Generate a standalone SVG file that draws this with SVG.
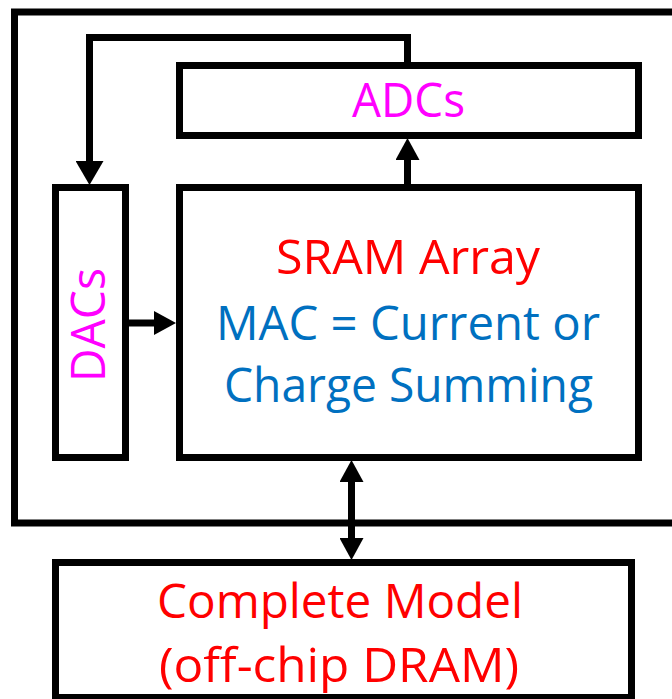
<svg xmlns="http://www.w3.org/2000/svg" width="672" height="699" viewBox="0 0 672 699">
<style>
.box{fill:#fff;stroke:#000;stroke-width:7}
.wire{fill:none;stroke:#000;stroke-width:7}
.t{font-family:"Open Sans","Liberation Sans",sans-serif;font-size:48px;text-anchor:middle}
.red{fill:#FF0000}
.blue{fill:#0070C0}
.mag{fill:#FF00FF}
</style>
<defs>
<marker id="ah" markerUnits="userSpaceOnUse" markerWidth="24" markerHeight="24" viewBox="0 0 22 24" refX="0" refY="12" orient="auto-start-reverse">
<path d="M0,0 L22,12 L0,24 z" fill="#000"/>
</marker>
<marker id="ahb" markerUnits="userSpaceOnUse" markerWidth="24" markerHeight="28" viewBox="0 0 24 28" refX="0" refY="14" orient="auto">
<path d="M0,0 L24,14 L0,28 z" fill="#000"/>
</marker>
</defs>
<rect width="672" height="699" fill="#fff"/>
<g id="chip">
<path class="wire" d="M690,12 H14.5 V523 H690"/>
</g>
<g id="adcs">
<rect class="box" x="179.5" y="65.5" width="459" height="70"/>
<text class="t mag" x="408.5" y="117" textLength="113" lengthAdjust="spacingAndGlyphs">ADCs</text>
</g>
<g id="dacs">
<rect class="box" x="55.5" y="187.5" width="70" height="270"/>
<text class="t mag" transform="translate(105,325) rotate(-90)" x="0" y="0" textLength="114" lengthAdjust="spacingAndGlyphs">DACs</text>
</g>
<g id="sram">
<rect class="box" x="179.5" y="187.5" width="459" height="270"/>
<text class="t red" x="408" y="274" textLength="264" lengthAdjust="spacingAndGlyphs">SRAM Array</text>
<text class="t blue" x="408" y="340" textLength="384" lengthAdjust="spacingAndGlyphs">MAC = Current or</text>
<text class="t blue" x="408.5" y="402" textLength="369" lengthAdjust="spacingAndGlyphs">Charge Summing</text>
</g>
<g id="dram">
<rect class="box" x="55.5" y="562.5" width="576" height="135"/>
<text class="t red" x="340" y="618" textLength="366" lengthAdjust="spacingAndGlyphs">Complete Model</text>
<text class="t red" x="339" y="682" textLength="360" lengthAdjust="spacingAndGlyphs">(off-chip DRAM)</text>
</g>
<g id="connectors">
<path class="wire" d="M407.5,62 V37.5 H89.5 V161" marker-end="url(#ahb)"/>
<path class="wire" d="M407.5,184 V160" marker-end="url(#ah)"/>
<path class="wire" d="M129,323 H154" marker-end="url(#ah)"/>
<path class="wire" d="M351.5,482 V538" marker-start="url(#ah)" marker-end="url(#ah)"/>
</g>
</svg>
